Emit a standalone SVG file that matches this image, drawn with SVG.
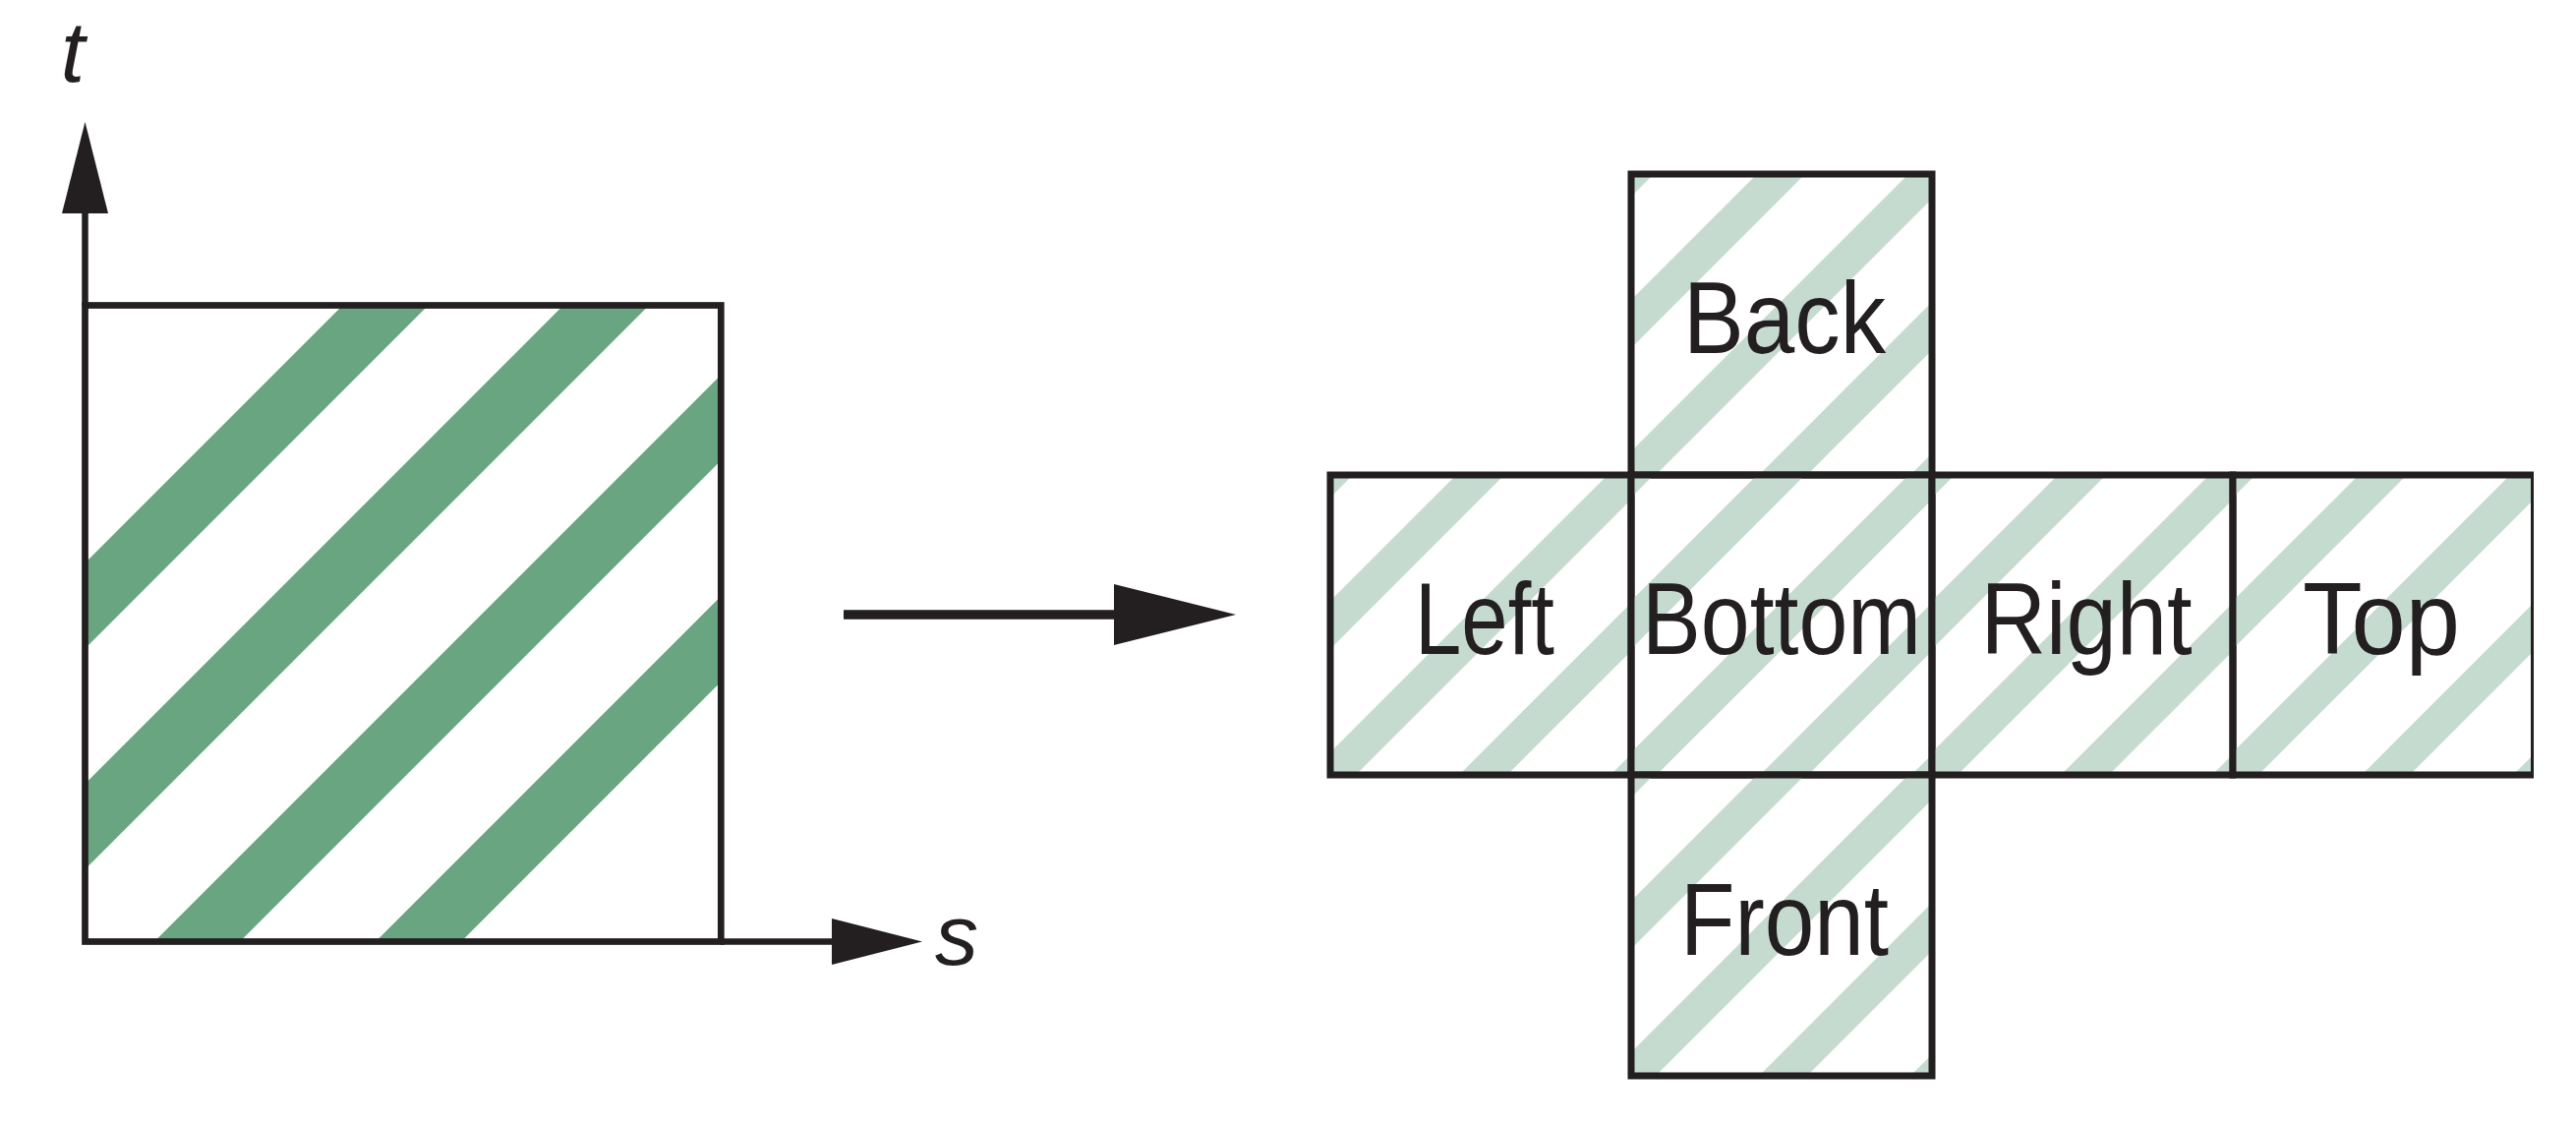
<svg xmlns="http://www.w3.org/2000/svg" xmlns:xlink="http://www.w3.org/1999/xlink" width="2620" height="1144" viewBox="0 0 2620 1144">
<style>
.ink{fill:#231f20;}
.edge{fill:none;stroke:#231f20;stroke-width:6.7;}
.cell{fill:none;stroke:#231f20;stroke-width:7;}
.axis{stroke:#231f20;stroke-width:6.5;fill:none;}
.dark{stroke:#68a580;stroke-width:61.5;}
.light{stroke:#c5dbcf;stroke-width:34.6;}
.lbl{font-family:"Liberation Sans",Arial,sans-serif;font-size:103px;fill:#231f20;text-anchor:middle;}
.var{font-family:"Liberation Sans",Arial,sans-serif;font-style:italic;font-size:88px;fill:#231f20;text-anchor:middle;}
</style>
<defs>
<clipPath id="sqclip"><rect x="86.5" y="310.5" width="646.8" height="647"/></clipPath>
<clipPath id="cellclip"><rect x="0" y="0" width="306" height="306"/></clipPath>
<g id="stripes" clip-path="url(#cellclip)">
<line class="light" x1="-401.5" y1="400" x2="398.5" y2="-400"/>
<line class="light" x1="-247.5" y1="400" x2="552.5" y2="-400"/>
<line class="light" x1="-93.5" y1="400" x2="706.5" y2="-400"/>
<line class="light" x1="60.5" y1="400" x2="860.5" y2="-400"/>
<line class="light" x1="214.5" y1="400" x2="1014.5" y2="-400"/>
</g>
</defs>
<rect width="2620" height="1144" fill="#ffffff"/>

<g id="texture-square">
<g clip-path="url(#sqclip)">
<line class="dark" x1="-297.5" y1="1000" x2="702.5" y2="0"/>
<line class="dark" x1="-73" y1="1000" x2="927" y2="0"/>
<line class="dark" x1="158" y1="1000" x2="1158" y2="0"/>
<line class="dark" x1="383" y1="1000" x2="1383" y2="0"/>
</g>
<rect class="edge" x="86.5" y="310.5" width="646.8" height="647"/>
</g>

<g id="axis-t">
<line class="axis" x1="86.5" y1="215" x2="86.5" y2="311"/>
<polygon class="ink" points="86.5,124 63,217 110,217"/>
<text class="var" x="74" y="82.7">t</text>
</g>

<g id="axis-s">
<line class="axis" x1="733" y1="957.5" x2="848" y2="957.5"/>
<polygon class="ink" points="938,957.5 846,934 846,981"/>
<text class="var" x="973" y="981">s</text>
</g>

<g id="connectors">
<line stroke="#231f20" stroke-width="9.5" x1="858" y1="625" x2="1138" y2="625"/>
<polygon class="ink" points="1257,625 1133,594 1133,656"/>
</g>

<g id="back">
<use xlink:href="#stripes" x="1659" y="177"/>
<rect class="cell" x="1659" y="177" width="306" height="306"/>
<text class="lbl" x="1815" y="359" textLength="206" lengthAdjust="spacingAndGlyphs">Back</text>
</g>

<g id="left">
<use xlink:href="#stripes" x="1353" y="483"/>
<rect class="cell" x="1353" y="483" width="306" height="305"/>
<text class="lbl" x="1510" y="665" textLength="142" lengthAdjust="spacingAndGlyphs">Left</text>
</g>

<g id="bottom">
<use xlink:href="#stripes" x="1659" y="483"/>
<rect class="cell" x="1659" y="483" width="306" height="305"/>
<text class="lbl" x="1812" y="665" textLength="284" lengthAdjust="spacingAndGlyphs">Bottom</text>
</g>

<g id="right">
<use xlink:href="#stripes" x="1965" y="483"/>
<rect class="cell" x="1965" y="483" width="306" height="305"/>
<text class="lbl" x="2122" y="665" textLength="215" lengthAdjust="spacingAndGlyphs">Right</text>
</g>

<g id="top">
<use xlink:href="#stripes" x="2271" y="483"/>
<path class="cell" d="M2577,483 H2271 V788 H2577"/>
<line stroke="#231f20" stroke-width="3" x1="2575.5" y1="483" x2="2575.5" y2="788"/>
<text class="lbl" x="2422" y="665" textLength="160" lengthAdjust="spacingAndGlyphs">Top</text>
</g>

<g id="front">
<use xlink:href="#stripes" x="1659" y="788"/>
<rect class="cell" x="1659" y="788" width="306" height="306"/>
<text class="lbl" x="1815" y="970.5" textLength="212" lengthAdjust="spacingAndGlyphs">Front</text>
</g>
</svg>
